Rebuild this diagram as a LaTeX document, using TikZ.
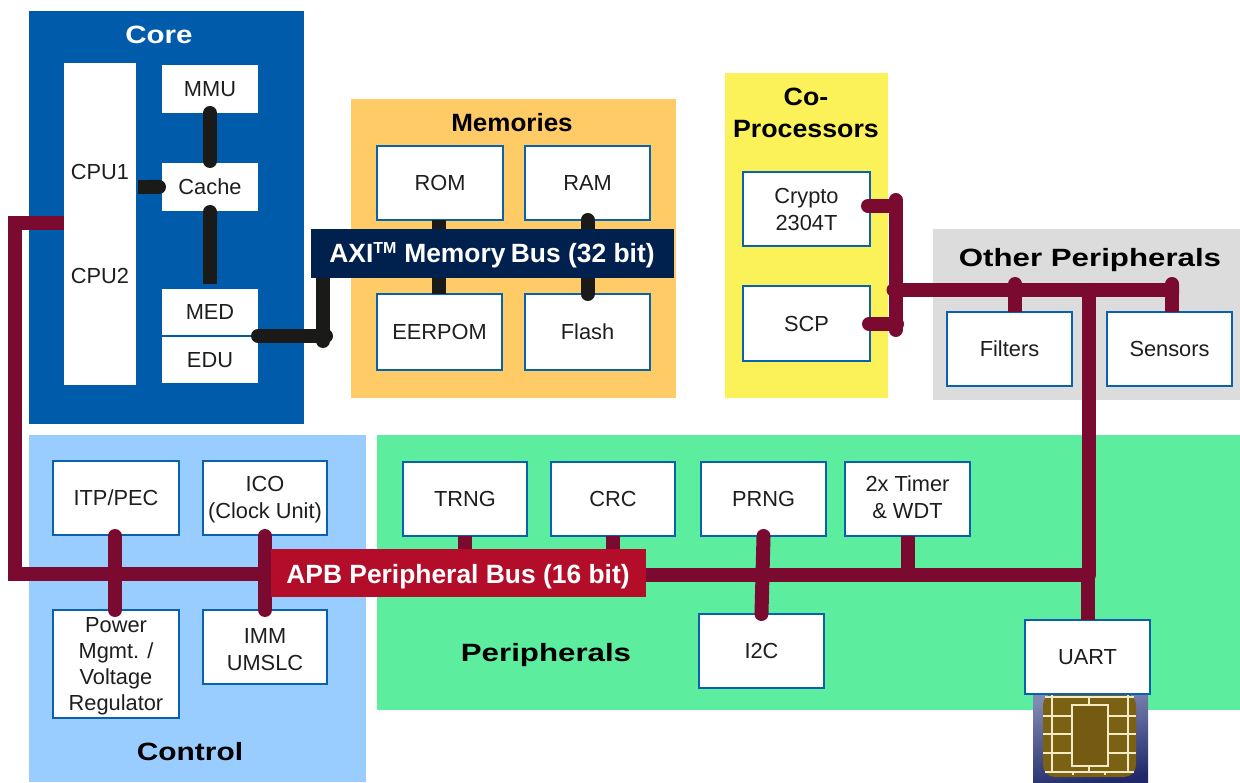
\documentclass[tikz,border=0pt]{standalone}
\usepackage{fontspec}
\setmainfont{Liberation Sans}
\usetikzlibrary{arrows.meta}
\pgfdeclarelayer{front}
\pgfsetlayers{main,front}
\definecolor{coreblue}{HTML}{005BAA}
\definecolor{edgeblue}{HTML}{0A62AE}
\definecolor{memfill}{HTML}{FFCB66}
\definecolor{copfill}{HTML}{FBF259}
\definecolor{othfill}{HTML}{DCDCDC}
\definecolor{ctlfill}{HTML}{99CCFF}
\definecolor{perfill}{HTML}{5CEE9E}
\definecolor{axifill}{HTML}{00214D}
\definecolor{apbfill}{HTML}{B30D2A}
\definecolor{maroon}{HTML}{7B0A30}
\definecolor{busblack}{HTML}{1A1A18}
\definecolor{txt}{HTML}{1E1E1E}
\definecolor{chipnavy}{HTML}{20286A}
\definecolor{chiplight}{HTML}{8088B4}
\definecolor{chipgold}{HTML}{7A6114}
\definecolor{chipcore}{HTML}{755A12}
\definecolor{chipline}{HTML}{F3EBC4}
\tikzset{
  sz/.style 2 args={minimum width=#1pt,minimum height=#2pt},
  base/.style={inner sep=0pt,outer sep=0pt,align=center,text=txt,font=\fontsize{21.8}{27}\selectfont},
  wbox/.style={base,fill=white},
  bbox/.style={base,fill=white,draw=edgeblue,line width=2pt},
  panel/.style={inner sep=0pt,outer sep=0pt},
  lbl/.style={inner sep=0pt,align=center,text=txt,font=\fontsize{21.8}{27}\selectfont},
  title/.style={inner sep=0pt,align=center,text=black,font=\fontsize{25}{32}\selectfont\bfseries,transform shape},
  barlbl/.style={inner sep=0pt,text=white,font=\fontsize{26.4}{30}\selectfont\bfseries},
  kb/.style={draw=busblack,line width=14pt,line cap=round},
  mb/.style={draw=maroon,line width=14pt,line cap=round},
  chipl/.style={draw=chipline,line width=1.5pt},
}
\begin{document}
\begin{tikzpicture}[x=1pt,y=-1pt]
\useasboundingbox (0,0) rectangle (1240,783);
% panels
\node[panel,fill=coreblue,sz={275}{413}] (core) at (166.5,217.5) {};
\node[panel,fill=memfill,sz={325}{299}] (mem) at (513.5,248.5) {};
\node[panel,fill=copfill,sz={163}{325}] (cop) at (806.5,235.5) {};
\node[panel,fill=othfill,sz={307}{171}] (oth) at (1086.5,314.5) {};
\node[panel,fill=ctlfill,sz={337}{347}] (ctl) at (197.5,608.5) {};
\node[panel,fill=perfill,sz={863}{275}] (per) at (808.5,572.5) {};
% chip
\shade[left color=chiplight,middle color=chipnavy,right color=chipnavy,shading angle=10] (1033,695) rectangle (1148,783);
\fill[chipgold,rounded corners=12pt] (1043,693) rectangle (1136,777);
\fill[chipcore] (1072,705) rectangle (1108,766);
\draw[chipl] (1072,705) rectangle (1108,766);
\draw[chipl] (1052,695) -- (1052,773) (1128,695) -- (1128,773);
\draw[chipl] (1045,697) -- (1134,697) (1045,772) -- (1134,772);
\draw[chipl] (1089,697) -- (1089,705) (1089,766) -- (1089,772);
\draw[chipl] (1073,772) -- (1073,775) (1105,772) -- (1105,775);
\draw[chipl] (1043,716) -- (1072,716) (1043,734) -- (1072,734) (1043,753) -- (1072,753);
\draw[chipl] (1108,716) -- (1136,716) (1108,734) -- (1136,734) (1108,753) -- (1136,753);
% panel titles
\node[title,text=white,xscale=1.18] (tcore) at (159,35) {Core};
\node[title,xscale=1.04] (tmem) at (512,123) {Memories};
\node[title,xscale=1.07] (tcop) at (806,113) {Co-\\Processors};
\node[title,xscale=1.25] (toth) at (1090,260) {Other Peripherals};
\node[title,xscale=1.195] (tctl) at (190,752) {Control};
\node[title,xscale=1.25] (tper) at (546,655) {Peripherals};
% core blocks
\node[wbox,sz={72}{322}] (cpu) at (100,224) {};
\node[lbl] (cpua) at (100,172) {CPU1};
\node[lbl] (cpub) at (100,276) {CPU2};
\node[wbox,sz={96}{48}] (mmu) at (210,89) {MMU};
\node[wbox,sz={96}{48}] (cache) at (210,187) {Cache};
\node[wbox,sz={96}{46}] (med) at (210,312) {MED};
\node[wbox,sz={96}{46}] (edu) at (210,360) {EDU};
% memories
\node[bbox,sz={126}{74}] (rom) at (440,183) {ROM};
\node[bbox,sz={125}{74}] (ram) at (587.5,183) {RAM};
\node[bbox,sz={125}{76}] (eep) at (439.5,332) {EERPOM};
\node[bbox,sz={125}{76}] (flash) at (587.5,332) {Flash};
% coprocessors
\node[bbox,sz={127}{74}] (crypto) at (806.5,209) {Crypto\\2304T};
\node[bbox,sz={127}{75}] (scp) at (806.5,323.5) {SCP};
% other
\node[bbox,sz={125}{74}] (filt) at (1009.5,349) {Filters};
\node[bbox,sz={125}{74}] (sens) at (1169.5,349) {Sensors};
% control
\node[bbox,sz={126}{74}] (itp) at (116,498) {ITP/PEC};
\node[bbox,sz={124}{74}] (ico) at (265,498) {\rule{0pt}{18pt}ICO\\(Clock Unit)};
\node[bbox,sz={126}{108},font=\fontsize{21.8}{26}\selectfont] (pwr) at (116,664) {\rule{0pt}{20pt}Power\\Mgmt. /\\Voltage\\Regulator};
\node[bbox,sz={124}{74}] (imm) at (265,647) {\rule{0pt}{20pt}IMM\\UMSLC};
% peripherals
\node[bbox,sz={124}{74}] (trng) at (465,499) {TRNG};
\node[bbox,sz={124}{74}] (crc) at (613,499) {CRC};
\node[bbox,sz={125}{74}] (prng) at (763.5,499) {PRNG};
\node[bbox,sz={125}{74}] (timer) at (907.5,499) {2x Timer\\\& WDT\rule[-3pt]{0pt}{3pt}};
\node[bbox,sz={125}{74}] (i2c) at (761.5,651) {I2C};
\node[bbox,sz={125}{74}] (uart) at (1087.5,657) {UART};
% bars (front layer, above the connectors)
\begin{pgfonlayer}{front}
\node[panel,fill=axifill,sz={363}{49}] (axi) at (492.5,253.5) {};
\node[panel,fill=apbfill,sz={375}{48}] (apb) at (458.5,573) {};
\node[barlbl] (axit) at (492,255) {AXI\textsuperscript{\fontsize{16}{16}\selectfont TM} Memory\hspace{-2pt} Bus (32 bit)};
\node[barlbl] (apbt) at (458,577) {APB Peripheral Bus (16 bit)};
\end{pgfonlayer}
% junction coordinates
\coordinate (jm) at (326,336);
\coordinate (jmv) at (323,341);
\coordinate (jv) at (895.5,290);
\coordinate (jp) at (1089,290);
\coordinate (jb) at (1089,575);
\coordinate (jf) at (1015,290);
\coordinate (js) at (1172,290);
% black connectors
\draw[kb,shorten >=2pt] (mmu.south) -- (cache.north);
\draw[kb,line cap=butt,{Round Cap[]}-,shorten <=-6pt,shorten >=5pt] (cache.south) -- (med.north);
\draw[kb,line cap=butt,-{Round Cap[]}] (cpu.east |- cache.west) ++(2,0) -- ([xshift=4pt]cache.west);
\draw[kb] (jm -| med.east) -- (jm);
\draw[kb] (jmv) -- (jmv |- axi.south);
\draw[kb,line cap=butt] (rom.south -| 439,0) -- (eep.north -| 439,0);
\draw[kb] (ram.south) -- (flash.north);
% maroon connectors
\draw[mb,line cap=butt,line join=miter] (cpu.west |- 0,223) -- (15,223) -- (15,574) -- (apb.west |- 0,574);
\draw[mb] ([xshift=-1pt,yshift=-1pt]itp.south) -- ([xshift=-1pt]pwr.north);
\draw[mb] ([yshift=-1pt]ico.south) -- (imm.north);
\draw[mb,line cap=butt] (trng.south) -- (apb.north -| trng.south);
\draw[mb,line cap=butt] (crc.south) -- (apb.north -| crc.south);
\draw[mb,shorten <=-1pt,shorten >=-1pt] ([yshift=-1pt]prng.south) -- ([yshift=1pt]i2c.north);
\draw[mb,line cap=butt] (timer.south) -- (timer.south |- jb);
\draw[mb,line cap=butt] (apb.east |- jb) -- (jb);
\draw[mb] (jp) -- (jb);
\draw[mb,line cap=butt] (jb -| uart.north) -- (uart.north);
\draw[mb] (jv) ++(-2,0) -- (js);
\draw[mb,line cap=butt,-{Round Cap[]}] (jf |- filt.north) -- ([yshift=13pt]jf);
\draw[mb,line cap=butt,-{Round Cap[]}] (js |- sens.north) -- ([yshift=13pt]js);
\draw[mb] (jv) ++(0,-90) -- ++(0,130);
\draw[mb] (crypto.east |- 0,206) ++(-2,0) -- (jv |- 0,206);
\draw[mb] (scp.east |- 0,324) ++(-1,0) -- ++(28,0);
\end{tikzpicture}
\end{document}
